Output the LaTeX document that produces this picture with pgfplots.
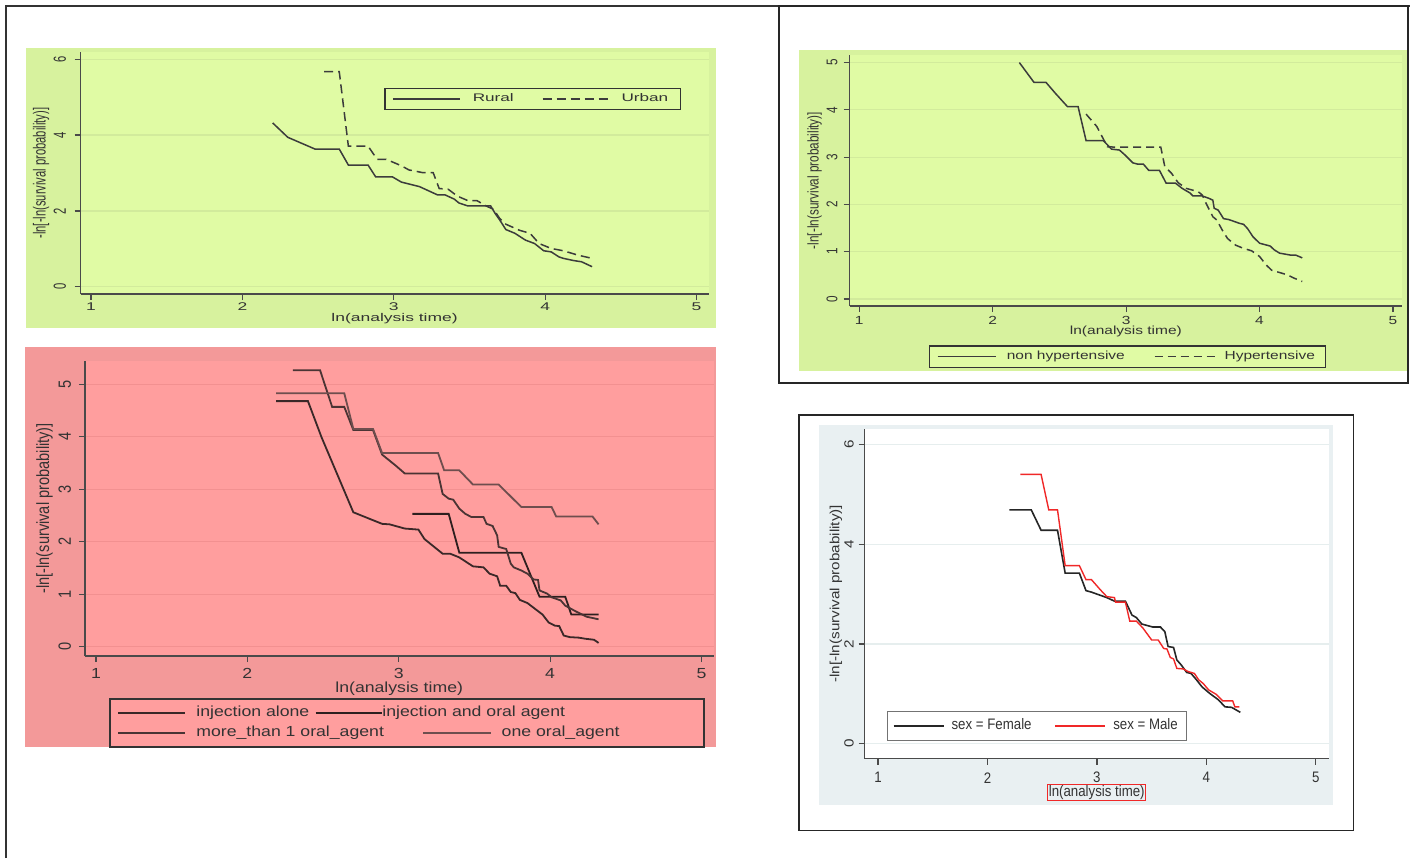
\documentclass[border=0pt]{standalone}
\usepackage{pgfplots}
\pgfplotsset{compat=1.18}
\usepackage{fontspec}
\setmainfont{Liberation Sans}
\newfontfamily\fAh[FakeStretch=1.56]{Liberation Sans}
\newfontfamily\fAv[FakeStretch=0.641]{Liberation Sans}
\newfontfamily\fBh[FakeStretch=1.32]{Liberation Sans}
\newfontfamily\fBv[FakeStretch=0.758]{Liberation Sans}
\newfontfamily\fCh[FakeStretch=1.21]{Liberation Sans}
\newfontfamily\fCv[FakeStretch=0.825]{Liberation Sans}
\newfontfamily\fDh[FakeStretch=0.873]{Liberation Sans}
\newfontfamily\fDv[FakeStretch=1.145]{Liberation Sans}
\definecolor{gplot}{HTML}{E0FBA4}
\definecolor{gout}{HTML}{D7F29E}
\definecolor{ggrid}{HTML}{D2EB9C}
\definecolor{rplot}{HTML}{FF9E9E}
\definecolor{rout}{HTML}{F39999}
\definecolor{rgrid}{HTML}{F29090}
\definecolor{bout}{HTML}{E9F0F2}
\definecolor{bgrid}{HTML}{E6EEEE}
\definecolor{axc}{HTML}{4A4A4A}
\definecolor{txt}{HTML}{333333}
\definecolor{ln}{HTML}{3C3C3C}
\definecolor{redl}{HTML}{F02828}
\definecolor{cA}{HTML}{3A2828}
\definecolor{cB}{HTML}{4A3434}
\definecolor{cC}{HTML}{6E4E4E}
\definecolor{cD}{HTML}{2E1F1F}
\pgfplotsset{
  legimg/.style n args={3}{legend image code/.code={\path[draw=none,fill=none] (0pt,0pt) -- (#1,0pt); \draw[##1] (#2,0pt) -- (#3,0pt);}},
  stata/.style={scale only axis, anchor=south west, axis lines*=left, tick align=outside,
    major tick length=3pt, axis line style={axc, line width=0.7pt}, tick style={axc, line width=0.6pt},
    ymajorgrids, xtick={1,2,3,4,5}, /pgf/number format/assume math mode=true,
    legend cell align=left, legend columns=2,
    clip=false},
}
\begin{document}
\begin{tikzpicture}
\path[use as bounding box] (0pt,0pt) rectangle (706.5pt,-429pt);
\fill[gout] (13pt,-24pt) rectangle (358pt,-164pt);
\fill[gout] (399.5pt,-25pt) rectangle (703.5pt,-185.5pt);
\fill[rout] (12.5pt,-173.5pt) rectangle (358pt,-373.5pt);
\fill[bout] (409.5pt,-212.5pt) rectangle (666.5pt,-402.5pt);

% ---------- Panel 1 : Rural / Urban ----------
\begin{axis}[stata, at={(40.25pt,-147pt)}, width=314.1pt, height=120.85pt,
  xmin=0.931, xmax=5.08, ymin=-0.19, ymax=6.18, ytick={0,2,4,6},
  axis background/.style={fill=gplot}, grid style={ggrid, line width=0.6pt},
  xticklabel style={font=\fAh\fontsize{5.6}{6}\selectfont, text=txt, anchor=center, inner sep=0pt, yshift=-3.5pt},
  yticklabel style={font=\fAv\fontsize{8.74}{9}\selectfont, text=txt, anchor=center, inner sep=0pt, xshift=-7.35pt, rotate=90},
  xlabel={ln(analysis time)},
  xlabel style={font=\fAh\fontsize{5.6}{6}\selectfont, text=txt, at={(axis description cs:0.5,-0.1005)}, anchor=center, inner sep=0pt},
  ylabel={-ln[-ln(survival probability)]},
  ylabel style={font=\fAv\fontsize{8.74}{9}\selectfont, text=txt, at={(axis description cs:-0.0629,0.5)}, anchor=center, inner sep=0pt},
  legend style={at={(0.4831,0.8535)}, anchor=north west, draw=txt, line width=0.8pt, fill=gplot,
    inner xsep=0pt, inner ysep=2.6pt, /tikz/column sep=0pt,
    font=\fAh\fontsize{5.5}{6}\selectfont, text=txt,
    nodes={inner sep=0pt, text height=4.1pt, text depth=1.2pt}},
]
\addplot[ln, line width=0.75pt, legimg={44pt}{4pt}{37.5pt}] coordinates {
(2.20,4.32)(2.30,3.94)(2.48,3.63)(2.64,3.63)(2.70,3.21)(2.83,3.21)(2.88,2.90)(2.99,2.90)(3.05,2.76)(3.17,2.64)(3.29,2.42)(3.34,2.42)(3.40,2.31)(3.43,2.21)(3.49,2.13)(3.64,2.13)(3.67,1.93)(3.70,1.76)(3.74,1.51)(3.80,1.41)(3.87,1.23)(3.93,1.14)(3.99,0.95)(4.04,0.92)(4.09,0.79)(4.12,0.75)(4.19,0.69)(4.24,0.66)(4.31,0.53)};
\addlegendentry{\makebox[34.5pt][l]{Rural}}
\addplot[ln, line width=0.75pt, dash pattern=on 4.5pt off 2.5pt, legimg={39.5pt}{0pt}{34.5pt}] coordinates {
(2.54,5.67)(2.64,5.67)(2.70,3.71)(2.83,3.71)(2.89,3.36)(2.95,3.36)(3.05,3.19)(3.10,3.08)(3.19,3.01)(3.26,3.01)(3.30,2.59)(3.36,2.57)(3.42,2.39)(3.49,2.27)(3.55,2.27)(3.61,2.13)(3.66,2.04)(3.70,1.80)(3.74,1.65)(3.83,1.49)(3.90,1.41)(3.96,1.14)(4.04,1.01)(4.12,0.95)(4.22,0.83)(4.31,0.75)};
\addlegendentry{\makebox[29.5pt][l]{Urban}}
\end{axis}

% ---------- Panel 2 : hypertension ----------
\begin{axis}[stata, at={(424.75pt,-153pt)}, width=276.4pt, height=125.5pt,
  xmin=0.927, xmax=5.07, ymin=-0.148, ymax=5.16, ytick={0,1,2,3,4,5},
  axis background/.style={fill=gplot}, grid style={ggrid, line width=0.6pt},
  xticklabel style={font=\fBh\fontsize{5.87}{6}\selectfont, text=txt, anchor=center, inner sep=0pt, yshift=-4.35pt},
  yticklabel style={font=\fBv\fontsize{7.75}{8}\selectfont, text=txt, anchor=center, inner sep=0pt, xshift=-5.75pt, rotate=90},
  xlabel={ln(analysis time)},
  xlabel style={font=\fBh\fontsize{5.87}{6}\selectfont, text=txt, at={(axis description cs:0.5,-0.102)}, anchor=center, inner sep=0pt},
  ylabel={-ln[-ln(survival probability)]},
  ylabel style={font=\fBv\fontsize{7.75}{8}\selectfont, text=txt, at={(axis description cs:-0.0633,0.5)}, anchor=center, inner sep=0pt},
  legend style={at={(0.1431,-0.1554)}, anchor=north west, draw=txt, line width=0.8pt, fill=gplot,
    inner xsep=0pt, inner ysep=2.63pt, /tikz/column sep=0pt,
    font=\fBh\fontsize{5.87}{6}\selectfont, text=txt,
    nodes={inner sep=0pt, text height=4.3pt, text depth=1.3pt}},
]
\addplot[ln, line width=0.75pt, legimg={38.7pt}{4.05pt}{33.2pt}] coordinates {
(2.20,5.00)(2.31,4.58)(2.40,4.58)(2.47,4.35)(2.56,4.07)(2.64,4.07)(2.70,3.35)(2.83,3.35)(2.89,3.17)(2.95,3.15)(2.99,3.05)(3.05,2.88)(3.09,2.85)(3.13,2.85)(3.17,2.72)(3.25,2.72)(3.30,2.45)(3.37,2.45)(3.42,2.34)(3.48,2.24)(3.50,2.18)(3.57,2.18)(3.62,2.13)(3.65,2.09)(3.66,1.92)(3.69,1.88)(3.73,1.70)(3.77,1.68)(3.80,1.65)(3.85,1.60)(3.88,1.58)(3.91,1.49)(3.95,1.32)(4.00,1.18)(4.08,1.12)(4.11,1.04)(4.15,0.97)(4.23,0.93)(4.27,0.93)(4.32,0.87)};
\addlegendentry{\makebox[73.5pt][l]{non hypertensive}}
\addplot[ln, line width=0.75pt, dash pattern=on 4pt off 2.5pt, legimg={35pt}{0pt}{30pt}] coordinates {
(2.70,3.91)(2.78,3.65)(2.86,3.22)(2.93,3.21)(3.26,3.21)(3.29,2.80)(3.34,2.66)(3.39,2.46)(3.45,2.34)(3.54,2.27)(3.57,2.20)(3.60,2.02)(3.65,1.74)(3.68,1.67)(3.72,1.46)(3.76,1.28)(3.82,1.14)(3.88,1.07)(3.94,1.02)(4.00,0.90)(4.05,0.72)(4.09,0.61)(4.15,0.56)(4.21,0.51)(4.26,0.44)(4.32,0.37)};
\addlegendentry{\makebox[50.5pt][l]{Hypertensive}}
\end{axis}

% ---------- Panel 3 : treatment ----------
\begin{axis}[stata, at={(42.4pt,-328pt)}, width=314.4pt, height=147.65pt,
  xmin=0.926, xmax=5.08, ymin=-0.18, ymax=5.45, ytick={0,1,2,3,4,5},
  axis background/.style={fill=rplot}, grid style={rgrid, line width=0.6pt},
  xticklabel style={font=\fCh\fontsize{7.3}{8}\selectfont, text=txt, anchor=center, inner sep=0pt, yshift=-5.85pt},
  yticklabel style={font=\fCv\fontsize{8.85}{9}\selectfont, text=txt, anchor=center, inner sep=0pt, xshift=-7pt, rotate=90},
  xlabel={ln(analysis time)},
  xlabel style={font=\fCh\fontsize{7.3}{8}\selectfont, text=txt, at={(axis description cs:0.5,-0.112)}, anchor=center, inner sep=0pt},
  ylabel={-ln[-ln(survival probability)]},
  ylabel style={font=\fCv\fontsize{8.85}{9}\selectfont, text=txt, at={(axis description cs:-0.0639,0.5)}, anchor=center, inner sep=0pt},
  legend style={at={(0.0391,-0.1426)}, anchor=north west, draw=txt, line width=0.8pt, fill=rplot,
    inner xsep=0pt, inner ysep=3.4pt, /tikz/column sep=0pt, /tikz/row sep=3.35pt,
    font=\fCh\fontsize{7.3}{8}\selectfont, text=txt,
    nodes={inner sep=0pt, text height=5.3pt, text depth=1.6pt}},
]
\addplot[cA, line width=0.9pt, legimg={43.1pt}{4pt}{37.55pt}] coordinates {
(2.19,4.68)(2.40,4.68)(2.49,3.99)(2.70,2.56)(2.89,2.34)(2.94,2.33)(3.04,2.25)(3.13,2.23)(3.17,2.05)(3.29,1.77)(3.34,1.77)(3.40,1.70)(3.49,1.53)(3.56,1.51)(3.60,1.39)(3.65,1.34)(3.67,1.16)(3.71,1.16)(3.74,1.04)(3.77,1.02)(3.80,0.89)(3.85,0.83)(3.90,0.72)(3.95,0.61)(3.99,0.46)(4.03,0.40)(4.06,0.39)(4.09,0.21)(4.13,0.18)(4.19,0.17)(4.23,0.15)(4.29,0.13)(4.32,0.07)};
\addlegendentry{\makebox[59.2pt][l]{injection alone}}
\addplot[cD, line width=0.9pt, legimg={93pt}{0pt}{33pt}] coordinates {
(3.09,2.53)(3.33,2.53)(3.40,1.79)(3.81,1.79)(3.93,0.95)(4.10,0.95)(4.14,0.61)(4.32,0.61)};
\addlegendentry{\makebox[101.2pt][l]{\hspace*{-59.65pt}injection and oral agent}}
\addplot[cB, line width=0.9pt, legimg={43.1pt}{4pt}{37.55pt}] coordinates {
(2.30,5.27)(2.48,5.27)(2.56,4.57)(2.64,4.57)(2.70,4.13)(2.83,4.13)(2.89,3.66)(2.98,3.45)(3.04,3.30)(3.26,3.30)(3.29,2.91)(3.33,2.82)(3.36,2.80)(3.40,2.63)(3.44,2.53)(3.48,2.47)(3.56,2.47)(3.58,2.34)(3.62,2.30)(3.65,2.12)(3.66,1.90)(3.71,1.86)(3.74,1.58)(3.76,1.51)(3.81,1.45)(3.85,1.39)(3.89,1.28)(3.92,1.27)(3.93,1.07)(3.98,1.01)(4.01,0.94)(4.07,0.88)(4.10,0.78)(4.17,0.67)(4.24,0.57)(4.32,0.52)};
\addlegendentry{\makebox[59.2pt][l]{more\_than 1 oral\_agent}}
\addplot[cC, line width=0.9pt, legimg={93pt}{53.85pt}{87.5pt}] coordinates {
(2.19,4.83)(2.64,4.83)(2.70,4.15)(2.83,4.15)(2.89,3.69)(3.26,3.69)(3.30,3.36)(3.40,3.36)(3.49,3.09)(3.66,3.09)(3.81,2.66)(4.01,2.66)(4.04,2.48)(4.28,2.48)(4.32,2.33)};
\addlegendentry{\makebox[101.2pt][l]{one oral\_agent}}
\end{axis}

% ---------- Panel 4 : sex ----------
\begin{axis}[stata, at={(432.25pt,-379.35pt)}, width=232.25pt, height=164.85pt,
  xmin=0.877, xmax=5.12, ymin=-0.30, ymax=6.31, ytick={0,2,4,6},
  axis background/.style={fill=white}, grid style={bgrid, line width=0.6pt},
  xticklabel style={font=\fDh\fontsize{7.6}{8}\selectfont, text=txt, anchor=center, inner sep=0pt, yshift=-6.5pt},
  yticklabel style={font=\fDv\fontsize{6.65}{7}\selectfont, text=txt, anchor=center, inner sep=0pt, xshift=-4.75pt, rotate=90},
  xlabel={ln(analysis time)},
  xlabel style={font=\fDh\fontsize{7.6}{8}\selectfont, text=txt, at={(axis description cs:0.5,-0.1025)}, anchor=center, inner xsep=0.5pt, inner ysep=0.6pt, draw=redl, line width=0.5pt},
  ylabel={-ln[-ln(survival probability)]},
  ylabel style={font=\fDv\fontsize{6.65}{7}\selectfont, text=txt, at={(axis description cs:-0.0614,0.5)}, anchor=center, inner sep=0pt},
  legend style={at={(0.0484,0.1456)}, anchor=north west, draw=black!55, line width=0.6pt, fill=white,
    inner xsep=0pt, inner ysep=3.7pt, /tikz/column sep=0pt,
    font=\fDh\fontsize{7.6}{8}\selectfont, text=txt,
    nodes={inner sep=0pt, text height=5.5pt, text depth=1.6pt}},
]
\addplot[black!85, line width=0.8pt, legimg={32pt}{3pt}{28pt}] coordinates {
(2.20,4.69)(2.40,4.69)(2.49,4.28)(2.64,4.28)(2.71,3.42)(2.84,3.42)(2.90,3.07)(2.95,3.04)(3.09,2.93)(3.16,2.86)(3.26,2.86)(3.32,2.58)(3.36,2.53)(3.41,2.40)(3.51,2.34)(3.58,2.34)(3.62,2.25)(3.65,1.95)(3.70,1.93)(3.73,1.68)(3.77,1.58)(3.82,1.43)(3.86,1.41)(3.91,1.28)(3.96,1.14)(4.03,1.01)(4.11,0.88)(4.17,0.74)(4.23,0.73)(4.31,0.63)};
\addlegendentry{\makebox[51.5pt][l]{sex = Female}}
\addplot[redl, line width=0.7pt, legimg={29pt}{0pt}{25pt}] coordinates {
(2.30,5.40)(2.49,5.40)(2.56,4.69)(2.64,4.69)(2.71,3.57)(2.84,3.57)(2.90,3.29)(2.95,3.29)(3.03,3.09)(3.09,2.95)(3.16,2.93)(3.17,2.84)(3.26,2.84)(3.30,2.46)(3.36,2.46)(3.42,2.32)(3.50,2.08)(3.56,2.08)(3.61,1.91)(3.64,1.90)(3.67,1.73)(3.70,1.70)(3.73,1.51)(3.79,1.50)(3.83,1.45)(3.89,1.41)(3.93,1.28)(3.97,1.21)(4.02,1.08)(4.09,0.99)(4.15,0.86)(4.24,0.86)(4.26,0.74)(4.30,0.74)};
\addlegendentry{\makebox[36.5pt][l]{sex = Male}}
\end{axis}

% ---------- frames ----------
\draw[line width=1pt, black!80] (2.75pt,-429pt) -- (2.75pt,-3pt) -- (705pt,-3pt);
\draw[line width=0.8pt, black!85] (389.5pt,-3pt) rectangle (704pt,-191.5pt);
\draw[line width=0.8pt, black!85] (399.5pt,-207.5pt) rectangle (676.7pt,-415.3pt);
\end{tikzpicture}
\end{document}
